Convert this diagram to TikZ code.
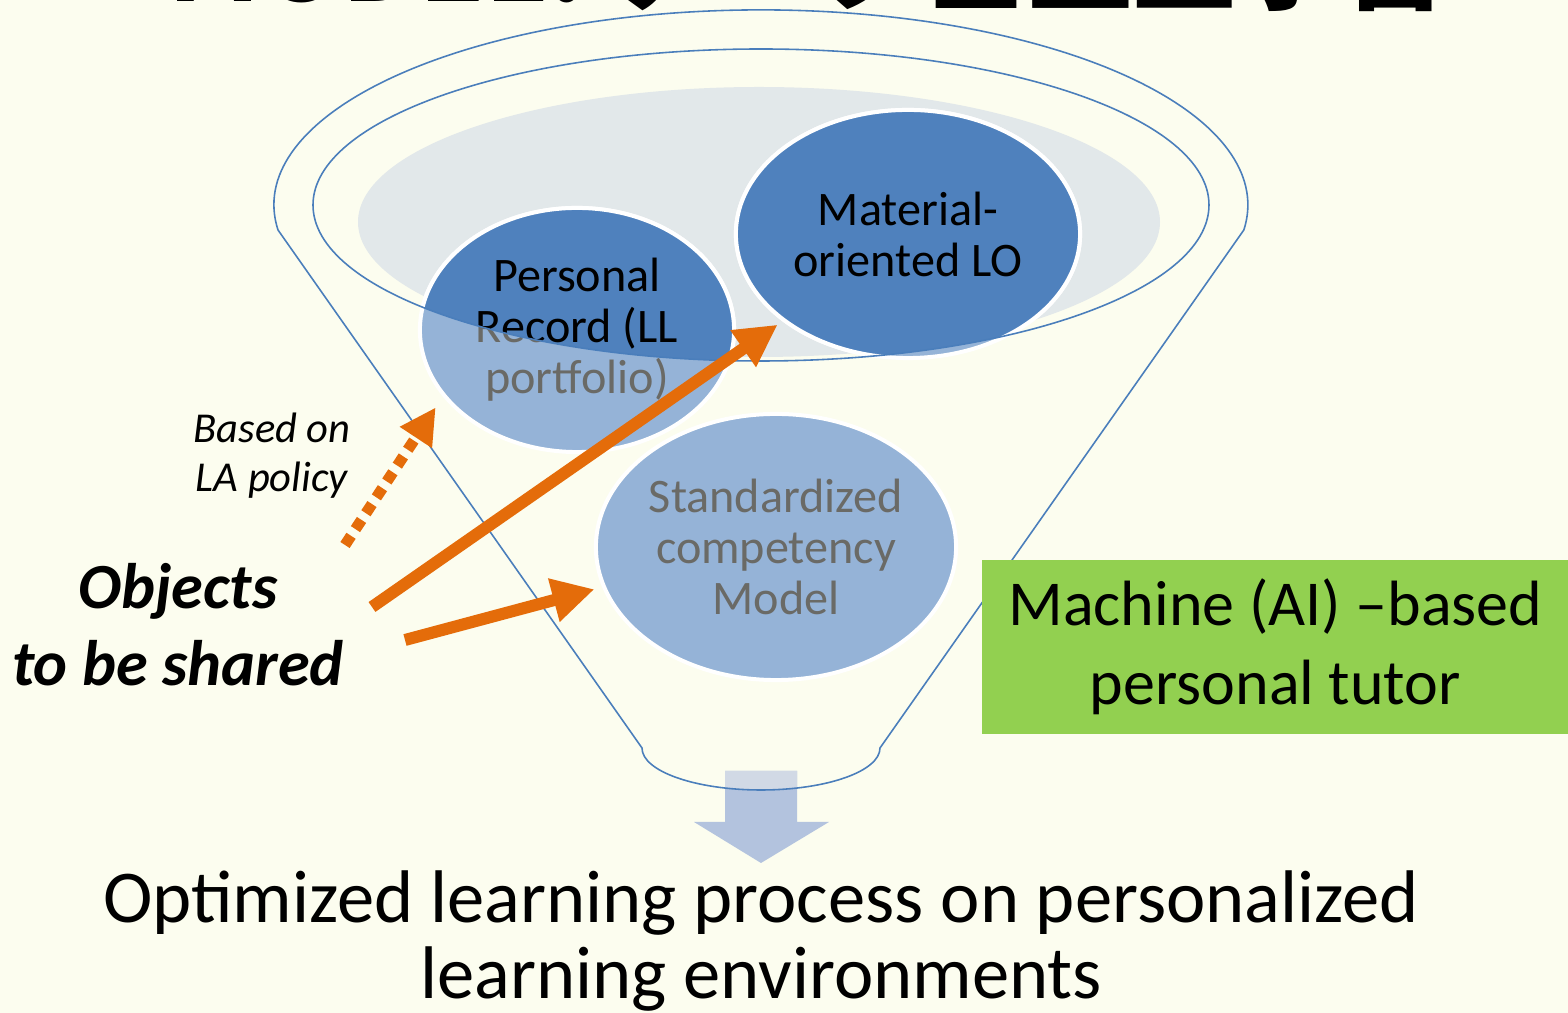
\documentclass[tikz,border=0pt]{standalone}
\usepackage{fontspec}
\setmainfont{Carlito}
\newfontfamily\cjk{Noto Sans CJK JP}
\usetikzlibrary{shapes.geometric,arrows.meta}

\definecolor{fundo}{HTML}{FCFDEF}
\definecolor{cinzaElipse}{HTML}{E2E8EA}
\definecolor{azulEscuro}{HTML}{4F81BD}
\definecolor{azulClaro}{HTML}{95B3D7}
\definecolor{azulLinha}{HTML}{4A7EBB}
\definecolor{cinzaTexto}{HTML}{6A6A66}
\definecolor{laranja}{HTML}{E46C0A}
\definecolor{verde}{HTML}{92D050}
\definecolor{azulSeta}{HTML}{B3C3DE}
\definecolor{azulSetaClaro}{HTML}{D1D9E5}

\begin{document}
\begin{tikzpicture}[
        x=0.01cm, y=-0.01cm,
        font=\fontsize{13.7}{14.5}\selectfont,
        contorno/.style={draw=azulLinha, line width=0.45pt},
        bolha/.style={ellipse, inner sep=0pt, outer sep=0pt, align=center,
            draw=white, line width=0.04cm},
        clara/.style={bolha, fill=azulClaro, text=cinzaTexto},
        escura/.style={bolha, fill=azulEscuro, text=black},
        seta/.style={draw=laranja, line width=0.12cm,
            -{Triangle[length=0.42cm, width=0.42cm]}},
        pontilhada/.style={draw=laranja, line width=0.11cm,
            dash pattern=on 0.11cm off 0.08cm,
            -{Triangle[length=0.36cm, width=0.36cm]}}
    ]

    % Formas
    \def\funil{(642,748) -- (278,230) arc[start angle=172.6, end angle=367.4, x radius=487, y radius=195] -- (880,748) arc[start angle=0, end angle=180, x radius=119, y radius=42] -- cycle}
    \def\elipseInterna{(761,205) ellipse [x radius=448, y radius=156]}
    \def\setaBloco{(725,771) -- (797,771) -- (797,822) -- (829,822) -- (761,863) -- (694,822) -- (725,822) -- cycle}

    \useasboundingbox (0,0) rectangle (1568,1013);
    \clip (0,0) rectangle (1568,1013);
    \fill[fundo] (0,0) rectangle (1568,1013);

    % Titulo (cortado)
    \node[anchor=base west, inner sep=0pt, font=\cjk\bfseries\fontsize{29.8}{29.8}\selectfont] (titulo) at (168,2) {MODEL: データ基盤型学習};

    \fill[cinzaElipse] (759,222) ellipse [x radius=401, y radius=135];

    % Bolhas
    \node[clara, minimum width=3.14cm, minimum height=2.44cm] (pr) at (577,330) {Personal\\Record (LL\\portfolio)};
    \node[clara, minimum width=3.44cm, minimum height=2.48cm] (mat) at (908,234) {Material-\\oriented LO};
    \node[clara, minimum width=3.6cm, minimum height=2.66cm] (scm) at (776,547) {Standardized\\competency\\Model};

    \begin{scope}
        \clip \elipseInterna;
        \node[escura, minimum width=3.14cm, minimum height=2.44cm] (prEscuro) at (pr) {Personal\\Record (LL\\portfolio)};
        \node[escura, minimum width=3.44cm, minimum height=2.48cm] (matEscuro) at (mat) {Material-\\oriented LO};
    \end{scope}

    % Seta de saida
    \fill[azulSeta] \setaBloco;
    \begin{scope}
        \clip \funil;
        \fill[azulSetaClaro] \setaBloco;
    \end{scope}

    % Funil
    \draw[contorno] \funil;
    \draw[contorno] \elipseInterna;

    % Setas laranja
    \coordinate (o1) at (372,607);
    \coordinate (o2) at (405,640);
    \coordinate (o3) at (345,545);
    \draw[seta, shorten >=0.08cm] (o1) -- (mat);
    \draw[seta, shorten >=0.1cm] (o2) -- (scm.193);
    \draw[pontilhada, shorten >=0.15cm] (o3) -- (pr.206);

    % Textos
    \node[anchor=base, align=center, font=\itshape\fontsize{12.1}{14.2}\selectfont] (politica) at (272,492) {Based on\\LA policy};
    \node[anchor=base, align=center, font=\bfseries\itshape\fontsize{18.3}{22}\selectfont] (objetos) at (178,686) {Objects\\to be shared};
    \node[anchor=north west, fill=verde, inner sep=0pt, minimum width=5.87cm, minimum height=1.74cm, align=center, font=\fontsize{18.2}{22.4}\selectfont] (tutor) at (981,559) {Machine (AI) –based\\personal tutor};
    \node[anchor=base, align=center, font=\fontsize{21.2}{21.8}\selectfont] (resultado) at (761,999) {Optimized learning process on personalized\\learning environments};

\end{tikzpicture}
\end{document}
